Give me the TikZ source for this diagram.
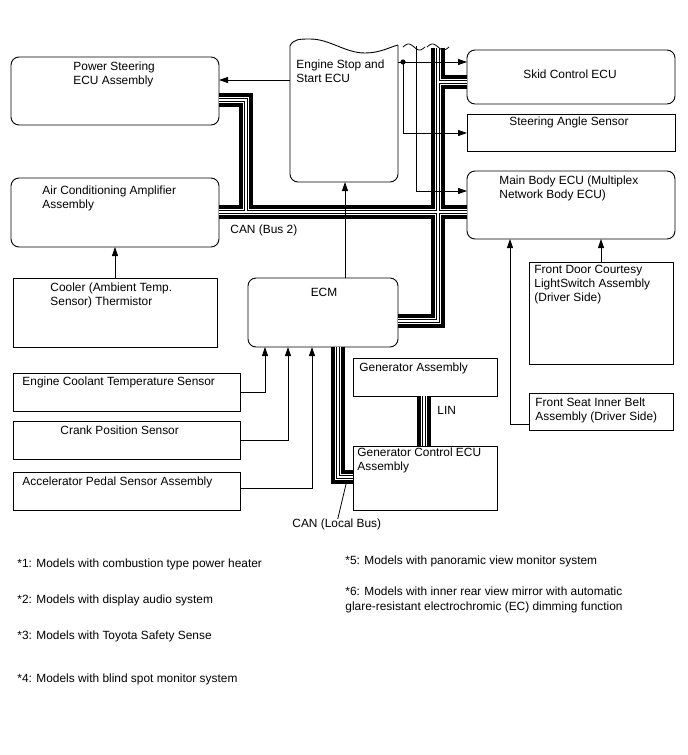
\documentclass[tikz,border=0pt]{standalone}
\usepackage{fontspec}
\setmainfont{Liberation Sans}
\usetikzlibrary{arrows.meta}
\newcommand\canbus[1]{%
  \draw[black,line width=13.5pt] #1;
  \draw[white,line width=6.8pt] #1;
  \draw[black,line width=3.4pt] #1;
  \draw[white,line width=1.3pt] #1;}
\begin{document}
\begin{tikzpicture}[x=1pt,y=-1pt,line width=0.9pt,
  font=\fontsize{11.9}{14}\selectfont,
  box/.style={draw,inner sep=0pt,outer sep=0pt},
  rbox/.style={box,rounded corners=8pt},
  lbl/.style={anchor=base west,inner sep=0pt},
  clbl/.style={anchor=base,inner sep=0pt},
  arr/.style={line width=0.8pt,-{Triangle[length=9pt,width=6pt]}},
  wire/.style={line width=0.8pt}]
\useasboundingbox[fill=white] (0,0) rectangle (688,755);

% boxes
\node[rbox,minimum width=208pt,minimum height=68pt] (ps) at (115,91) {};
\node[rbox,minimum width=208pt,minimum height=69pt] (ac) at (115,212.5) {};
\node[box,minimum width=204pt,minimum height=69pt] (cool) at (115,312.5) {};
\node[inner sep=0pt,outer sep=0pt,minimum width=108pt,minimum height=137pt] (ess) at (344,113.5) {};
\node[rbox,minimum width=150pt,minimum height=69pt] (ecm) at (323,312.5) {};
\node[rbox,minimum width=208pt,minimum height=54pt] (skid) at (571,77) {};
\node[box,minimum width=208pt,minimum height=37pt] (sas) at (571,132.5) {};
\node[rbox,minimum width=208pt,minimum height=68pt] (mb) at (571,205) {};
\node[box,minimum width=144pt,minimum height=102pt] (fd) at (601,313) {};
\node[box,minimum width=144pt,minimum height=37pt] (fs) at (601,411.5) {};
\node[box,minimum width=227pt,minimum height=38pt] (ect) at (126.5,392) {};
\node[box,minimum width=227pt,minimum height=38pt] (crank) at (126.5,440) {};
\node[box,minimum width=227pt,minimum height=38pt] (accel) at (126.5,491) {};
\node[box,minimum width=144pt,minimum height=38pt] (gen) at (425,377) {};
\node[box,minimum width=144pt,minimum height=64pt] (gcecu) at (425,478) {};

% Engine Stop and Start ECU outline
\draw[rounded corners=8pt] (290,46) -- (ess.south west) -- (ess.south east) -- (398,45);
\draw (290,46) .. controls (293,39) and (300,39) .. (310,39)
      .. controls (330,39) and (345,53) .. (365,53)
      .. controls (380,53) and (390,47) .. (398,45);

% CAN buses
\canbus{(ac.east |- 0,212) -- (mb.west |- 0,212)
  (246,212) -- (246,100) -- (ps.east |- 0,100)
  (438,48) -- (438,321) -- (ecm.east |- 0,321)
  (438,82) -- (skid.west |- 0,82)
  (ecm.south -| 338,0) -- (338,477) -- (gcecu.west |- 0,477)
  (gen.south -| 424,0) -- (gcecu.north -| 424,0)}

% wires
\coordinate (dot) at (403,62);
\coordinate (mbtop) at (416,46);
\draw[arr] (ess.west |- 0,80) -- (ps.east |- 0,80);
\draw[arr] (ess.east |- dot) -- (skid.west |- dot);
\draw[arr] (dot) |- (sas.west |- 0,133);
\fill (dot) circle (2.6pt);
\draw[arr] (mbtop) |- (mb.west |- 0,191);
\draw[arr] (ecm.north -| 345,0) -- (ess.south -| 345,0);
\draw[arr] (cool.north) -- (ac.south);
\draw[arr] (fd.north) -- (mb.south -| fd.north);
\draw[arr] (fs.west |- 0,424) -| (mb.south -| 510,0);
\draw[arr] (ect.east) -| (ecm.south -| 265,0);
\draw[arr] (crank.east) -| (ecm.south -| 288,0);
\draw[arr] (accel.east |- 0,488) -| (ecm.south -| 312,0);

% break marks
\draw[wire] plot[domain=0:1,samples=30,smooth] ({403+22*\x},{47-3*sin(360*\x)});
\draw[wire] plot[domain=0:1,samples=30,smooth] ({427+22*\x},{47-3*sin(360*\x)});

% texts
\node[lbl] (t1) at (73,70) {Power Steering};
\node[lbl] (t2) at (73,84) {ECU Assembly};
\node[lbl] (t3) at (296,68) {Engine Stop and};
\node[lbl] (t4) at (296,82) {Start ECU};
\node[clbl] (t5) at (570,78.5) {Skid Control ECU};
\node[lbl] (t6) at (509,125) {Steering Angle Sensor};
\node[lbl] (t7) at (499,184) {Main Body ECU (Multiplex};
\node[lbl] (t8) at (499,198.5) {Network Body ECU)};
\node[lbl] (t9) at (42,194) {Air Conditioning Amplifier};
\node[lbl] (t10) at (42,208) {Assembly};
\node[lbl] (t11) at (230,233) {CAN (Bus 2)};
\node[lbl] (t12) at (50,291.5) {Cooler (Ambient Temp.};
\node[lbl] (t13) at (50,305.5) {Sensor) Thermistor};
\node[clbl] (t14) at (324,296) {ECM};
\node[lbl] (t15) at (22,385) {Engine Coolant Temperature Sensor};
\node[lbl] (t16) at (60,434) {Crank Position Sensor};
\node[lbl] (t17) at (22,485) {Accelerator Pedal Sensor Assembly};
\node[lbl] (t18) at (359,371.5) {Generator Assembly};
\node[lbl] (t19) at (437,414) {LIN};
\node[lbl] (t20) at (357,456.5) {Generator Control ECU};
\node[lbl] (t21) at (357,470.5) {Assembly};
\node[lbl] (canlocal) at (292,527) {CAN (Local Bus)};
\draw[wire] ([xshift=1pt,yshift=-1pt]canlocal.north) -- (347,480);
\node[lbl] (t22) at (534,273.3) {Front Door Courtesy};
\node[lbl] (t23) at (534,287.3) {LightSwitch Assembly};
\node[lbl] (t24) at (534,301.5) {(Driver Side)};
\node[lbl] (t25) at (535,406) {Front Seat Inner Belt};
\node[lbl] (t26) at (535,420) {Assembly (Driver Side)};

% footnotes
\node[lbl] (f1) at (17,567) {*1: Models with combustion type power heater};
\node[lbl] (f2) at (17,603) {*2: Models with display audio system};
\node[lbl] (f3) at (17,639) {*3: Models with Toyota Safety Sense};
\node[lbl] (f4) at (17,682) {*4: Models with blind spot monitor system};
\node[lbl] (f5) at (345,564) {*5: Models with panoramic view monitor system};
\node[lbl] (f6) at (345,595) {*6: Models with inner rear view mirror with automatic};
\node[lbl] (f7) at (345,610) {glare-resistant electrochromic (EC) dimming function};
\end{tikzpicture}
\end{document}
